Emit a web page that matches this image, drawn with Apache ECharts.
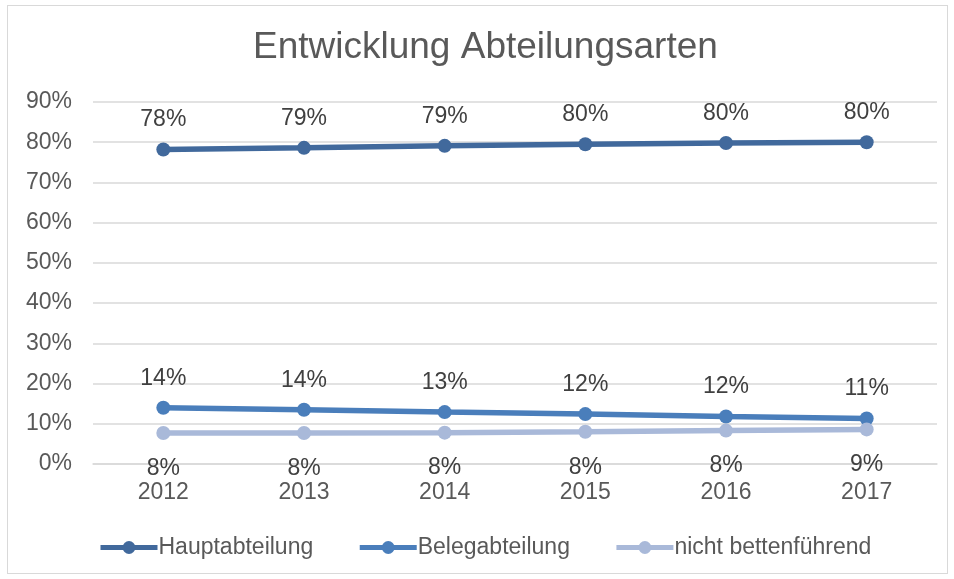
<!DOCTYPE html>
<html>
<head>
<meta charset="utf-8">
<script src="https://cdn.jsdelivr.net/npm/echarts@6/dist/echarts.min.js"></script>
<style>
  html, body { margin: 0; padding: 0; background: #fff; }
  #frame { position: absolute; left: 7px; top: 5px; width: 941px; height: 569px; border: 1px solid #d9d9d9; box-sizing: border-box; }
  #chart { position: absolute; left: 0; top: 0; width: 954px; height: 579px; }
</style>
</head>
<body>
<div id="frame"></div>
<div id="chart"></div>
<script>
// Daten
var years = ['2012', '2013', '2014', '2015', '2016', '2017'];
var hauptabteilung = [78.2, 78.6, 79.1, 79.5, 79.8, 80.0];
var belegabteilung = [14.0, 13.5, 12.9, 12.4, 11.8, 11.3];
var nichtBetten = [7.7, 7.7, 7.8, 8.0, 8.3, 8.6];

var font = 'Liberation Sans, Arial, sans-serif';

function pct(p) { return Math.round(p.value) + '%'; }

function lineSeries(name, data, color, pos) {
	return {
		name: name,
		type: 'line',
		data: data,
		symbol: 'circle',
		symbolSize: 14,
		lineStyle: { width: 5.5, color: color },
		itemStyle: { color: color },
		label: {
			show: true,
			position: pos,
			distance: pos == 'top' ? 11 : 17,
			formatter: pct,
			fontFamily: font,
			fontSize: 23,
			color: '#404040'
		},
		animation: false
	};
}

var dom = document.getElementById('chart');
var myChart = echarts.init(dom);
var option = {
	title: {
		text: 'Entwicklung Abteilungsarten',
		left: 248,
		top: 24,
		textStyle: { fontFamily: font, fontSize: 37, fontWeight: 'normal', color: '#595959' }
	},
	legend: {
		bottom: 20,
		left: 98,
		padding: 0,
		itemWidth: 57,
		itemHeight: 16,
		itemGap: 44,
		lineStyle: { width: 5 },
		textStyle: { fontFamily: font, fontSize: 23, color: '#595959', padding: [0, 0, 0, -4] },
		data: ['Hauptabteilung', 'Belegabteilung', 'nicht bettenführend']
	},
	grid: {
		left: 93,
		right: 17,
		top: 102,
		bottom: 115
	},
	xAxis: {
		type: 'category',
		data: years,
		axisLine: { show: true, lineStyle: { color: '#d9d9d9', width: 1.5 } },
		axisTick: { show: false },
		axisLabel: { fontFamily: font, fontSize: 23, color: '#595959', margin: 17 }
	},
	yAxis: {
		type: 'value',
		min: 0,
		max: 90,
		interval: 10,
		axisLine: { show: false },
		axisTick: { show: false },
		splitLine: { lineStyle: { color: '#d9d9d9', width: 1.5 } },
		axisLabel: { fontFamily: font, fontSize: 23, color: '#595959', margin: 21, formatter: '{value}%' }
	},
	series: [
		lineSeries('Hauptabteilung', hauptabteilung, '#41699c', 'top'),
		lineSeries('Belegabteilung', belegabteilung, '#4a7ebb', 'top'),
		lineSeries('nicht bettenführend', nichtBetten, '#a9b9d9', 'bottom')
	]
};
myChart.setOption(option, true);
</script>
</body>
</html>
